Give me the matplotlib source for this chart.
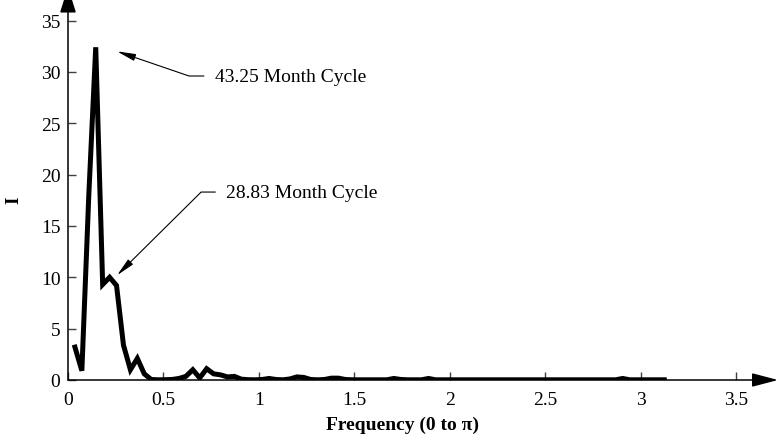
import numpy as np
import matplotlib
matplotlib.use('Agg')
import matplotlib.pyplot as plt

plt.rcParams['font.family'] = ['Liberation Serif', 'DejaVu Serif']

# periodogram ordinates, N = 173 months, frequencies 2*pi*k/N for k = 1..86
n_obs = 173
intensity = [
    3.2, 0.9, 18.0, 32.4, 9.3, 10.0, 9.2, 3.4, 1.0, 2.1,      # k 1-10
    0.6, 0.05, 0.02, 0.03, 0.05, 0.15, 0.35, 1.0, 0.2, 1.1,   # k 11-20
    0.6, 0.5, 0.3, 0.35, 0.08, 0.03, 0.02, 0.05, 0.15, 0.05,  # k 21-30
    0.02, 0.1, 0.3, 0.25, 0.05, 0.02, 0.05, 0.18, 0.18, 0.05, # k 31-40
    0.02, 0.02, 0.02, 0.02, 0.02, 0.02, 0.15, 0.05, 0.02, 0.02,  # k 41-50
    0.02, 0.15, 0.02, 0.02, 0.02, 0.02, 0.02, 0.02, 0.02, 0.02,  # k 51-60
    0.02, 0.02, 0.02, 0.02, 0.02, 0.02, 0.02, 0.02, 0.02, 0.02,  # k 61-70
    0.02, 0.02, 0.02, 0.02, 0.02, 0.02, 0.02, 0.02, 0.02, 0.15,  # k 71-80
    0.02, 0.02, 0.02, 0.02, 0.02, 0.02,                          # k 81-86
]
freq = 2 * np.pi * np.arange(1, len(intensity) + 1) / n_obs

x_ticks = [0, 0.5, 1, 1.5, 2, 2.5, 3, 3.5]
x_tick_labels = ['0', '0.5', '1', '1.5', '2', '2.5', '3', '3.5']
y_ticks = [0, 5, 10, 15, 20, 25, 30, 35]

notes = [
    ('43.25 Month Cycle', (0.257, 32.0), (0.77, 29.6), -18.9),
    ('28.83 Month Cycle', (0.257, 10.2), (0.83, 18.3), 44.7),
]

fig = plt.figure(figsize=(7.8, 4.39), dpi=100)
ax = fig.add_axes([68 / 780, 58 / 439, 710 / 780, 376 / 439])

ax.plot(freq, intensity, color='black', lw=3.6, solid_joinstyle='miter')

ax.set_xlim(0, 710 / 190.9)
ax.set_ylim(0, 376 / 10.27)

for s in ax.spines.values():
    s.set_visible(False)

axis_col = '#404040'
# axis lines with arrowheads
ax.annotate('', xy=(778 / 190.9 - 68 / 190.9, 0), xytext=(0, 0),
            arrowprops=dict(arrowstyle='-|>,head_length=1.6,head_width=0.42',
                            color='black', lw=1.1, shrinkA=0, shrinkB=0,
                            mutation_scale=10),
            annotation_clip=False)
ax.annotate('', xy=(0, 393 / 10.27), xytext=(0, 0),
            arrowprops=dict(arrowstyle='-|>,head_length=1.6,head_width=0.5',
                            color='black', lw=1.1, shrinkA=0, shrinkB=0,
                            mutation_scale=10),
            annotation_clip=False)

ax.set_xticks(x_ticks)
ax.set_xticklabels(x_tick_labels)
ax.set_yticks(y_ticks)
ax.tick_params(axis='both', direction='in', length=6, width=1,
               color=axis_col, labelsize=14)
ax.tick_params(axis='x', pad=8)
ax.tick_params(axis='y', pad=5.5)

ax.set_xlabel('Frequency (0 to \u03c0)', fontsize=14, fontweight='bold')
ax.xaxis.set_label_coords(335 / 710, -0.095)
ax.text(-54 / 710, 181 / 376, 'I', transform=ax.transAxes, rotation=90,
        ha='center', va='center', fontsize=14, fontweight='bold')

for label, tip, txt, ang in notes:
    ax.annotate(label, xy=tip, xytext=txt, ha='left', va='center', fontsize=14,
                arrowprops=dict(arrowstyle='-|>,head_length=0.8,head_width=0.15',
                                color='black', lw=0.8, shrinkA=6, shrinkB=0,
                                mutation_scale=14, relpos=(0, 0.5),
                                connectionstyle=f'angle,angleA=0,angleB={ang},rad=0'))

fig.savefig('out.png', dpi=100)
